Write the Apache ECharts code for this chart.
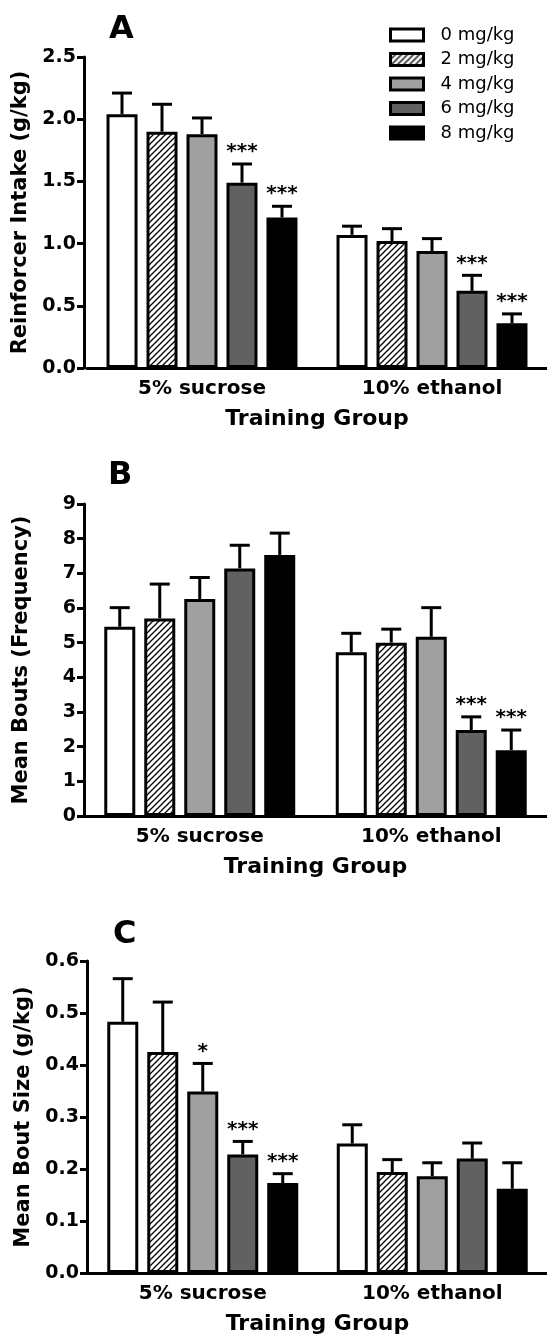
<!DOCTYPE html>
<html>
<head>
<meta charset="utf-8">
<script src="https://cdn.jsdelivr.net/npm/echarts@6/dist/echarts.min.js"></script>
<style>
  html, body { margin: 0; padding: 0; background: #fff; }
  #main { width: 547px; height: 1339px; }
</style>
</head>
<body>
<div id="main"></div>
<script>
// categories
var groups = ['5% sucrose', '10% ethanol']
var doses = ['0 mg/kg', '2 mg/kg', '4 mg/kg', '6 mg/kg', '8 mg/kg']

// A: reinforcer intake (g/kg), one row per dose: [sucrose, ethanol]
var intakeMean = [[2.04, 1.07], [1.90, 1.02], [1.88, 0.94], [1.49, 0.62], [1.21, 0.36]]
var intakeSem = [[0.17, 0.07], [0.22, 0.10], [0.13, 0.10], [0.15, 0.125], [0.09, 0.075]]
var intakeSig = [['', ''], ['', ''], ['', ''], ['***', '***'], ['***', '***']]

// B: mean bouts
var boutsMean = [[5.46, 4.72], [5.70, 5.00], [6.26, 5.17], [7.14, 2.48], [7.53, 1.90]]
var boutsSem = [[0.55, 0.55], [0.99, 0.39], [0.62, 0.84], [0.67, 0.38], [0.63, 0.58]]
var boutsSig = [['', ''], ['', ''], ['', ''], ['', '***'], ['', '***']]

// C: mean bout size (g/kg)
var sizeMean = [[0.483, 0.249], [0.425, 0.194], [0.349, 0.186], [0.228, 0.22], [0.173, 0.162]]
var sizeSem = [[0.083, 0.036], [0.096, 0.024], [0.054, 0.026], [0.025, 0.03], [0.018, 0.05]]
var sizeSig = [['', ''], ['', ''], ['*', ''], ['***', ''], ['***', '']]

var font = 'DejaVu Sans'

// hatch for the 2 mg/kg bars
function hatch() {
  var c = document.createElement('canvas')
  c.width = 6
  c.height = 6
  var ctx = c.getContext('2d')
  ctx.fillStyle = '#fff'
  ctx.fillRect(0, 0, 6, 6)
  ctx.strokeStyle = '#000'
  ctx.lineWidth = 1.3
  ctx.beginPath()
  ctx.moveTo(-1, 7); ctx.lineTo(7, -1)
  ctx.moveTo(-1, 1); ctx.lineTo(1, -1)
  ctx.moveTo(5, 7); ctx.lineTo(7, 5)
  ctx.stroke()
  return { image: c, repeat: 'repeat' }
}
var fills = ['#ffffff', hatch(), '#a0a0a0', '#616161', '#000000']

var grids = [
  { left: 87, width: 467, top: 57, height: 311 },
  { left: 84, width: 466, top: 504, height: 312 },
  { left: 88, width: 466, top: 961, height: 312 }
]
var yNames = ['Reinforcer Intake (g/kg)', 'Mean Bouts (Frequency)', 'Mean Bout Size (g/kg)']
var yMax = [2.5, 9, 0.6]
var yStep = [0.5, 1, 0.1]
var yDigits = [1, 0, 1]
var yOffset = [3, 0, 1]

var panels = [
  [intakeMean, intakeSem, intakeSig],
  [boutsMean, boutsSem, boutsSig],
  [sizeMean, sizeSem, sizeSig]
]

var xAxis = grids.map(function (g, i) {
  return {
    type: 'category', gridIndex: i, data: groups,
    axisTick: { show: false },
    axisLine: { lineStyle: { color: '#000', width: 3 } },
    axisLabel: { color: '#000', fontFamily: font, fontWeight: 'bold', fontSize: 20, margin: 11 },
    name: 'Training Group', nameLocation: 'middle', nameGap: 40,
    nameTextStyle: { color: '#000', fontFamily: font, fontWeight: 'bold', fontSize: 22 }
  }
})

var yAxis = grids.map(function (g, i) {
  return {
    type: 'value', gridIndex: i, min: 0, max: yMax[i], interval: yStep[i], offset: yOffset[i],
    splitLine: { show: false },
    axisLine: { show: true, lineStyle: { color: '#000', width: 3 } },
    axisTick: { show: true, length: 7, lineStyle: { color: '#000', width: 3 } },
    axisLabel: {
      color: '#000', fontFamily: font, fontWeight: 'bold', fontSize: 19, margin: 8,
      formatter: function (v) { return v.toFixed(yDigits[i]) }
    },
    name: yNames[i], nameLocation: 'middle', nameGap: 52,
    nameTextStyle: { color: '#000', fontFamily: font, fontWeight: 'bold', fontSize: 21 }
  }
})

var series = []
panels.forEach(function (p, gi) {
  var means = p[0], sems = p[1], sigs = p[2]
  doses.forEach(function (dose, d) {
    series.push({
      name: dose, type: 'bar', xAxisIndex: gi, yAxisIndex: gi,
      barWidth: 31, barGap: '29%',
      itemStyle: { color: fills[d], borderColor: '#000', borderWidth: 3 },
      emphasis: { disabled: true },
      data: means[d]
    })
  })
  var rows = []
  doses.forEach(function (dose, d) {
    groups.forEach(function (grp, c) {
      rows.push([c, d, means[d][c], means[d][c] + sems[d][c]])
    })
  })
  // error bars (upper only) and significance stars
  series.push({
    type: 'custom', xAxisIndex: gi, yAxisIndex: gi, z: 5, silent: true,
    data: rows,
    encode: { x: 0, y: 3 },
    renderItem: function (params, api) {
      var c = api.value(0), d = api.value(1)
      var off = (d - 2) * 40
      var p0 = api.coord([c, api.value(2)])
      var p1 = api.coord([c, api.value(3)])
      var x = p0[0] + off
      var sig = sigs[d][c]
      var kids = [
        { type: 'line', shape: { x1: x, y1: p0[1], x2: x, y2: p1[1] }, style: { stroke: '#000', lineWidth: 3 } },
        { type: 'line', shape: { x1: x - 10, y1: p1[1], x2: x + 10, y2: p1[1] }, style: { stroke: '#000', lineWidth: 3 } }
      ]
      if (sig) {
        kids.push({
          type: 'text', x: x, y: p1[1] - 2,
          style: { text: sig, fill: '#000', font: 'bold 20px "' + font + '"', align: 'center', verticalAlign: 'bottom' }
        })
      }
      return { type: 'group', children: kids }
    }
  })
})

var chart = echarts.init(document.getElementById('main'))
chart.setOption({
  animation: false,
  backgroundColor: '#fff',
  title: [
    { text: 'A', left: 104, top: 9 },
    { text: 'B', left: 103, top: 455 },
    { text: 'C', left: 108, top: 914 }
  ].map(function (t) {
    t.textStyle = { color: '#000', fontFamily: font, fontWeight: 'bold', fontSize: 32 }
    return t
  }),
  legend: {
    data: doses, orient: 'vertical', left: 384, top: 21,
    icon: 'rect', itemWidth: 33, itemHeight: 12, itemGap: 6.5,
    itemStyle: { borderColor: '#000', borderWidth: 3 },
    textStyle: { color: '#000', fontFamily: font, fontSize: 18, padding: [0, 0, 0, 12] },
    selectedMode: false
  },
  grid: grids,
  xAxis: xAxis,
  yAxis: yAxis,
  series: series
})
</script>
</body>
</html>
